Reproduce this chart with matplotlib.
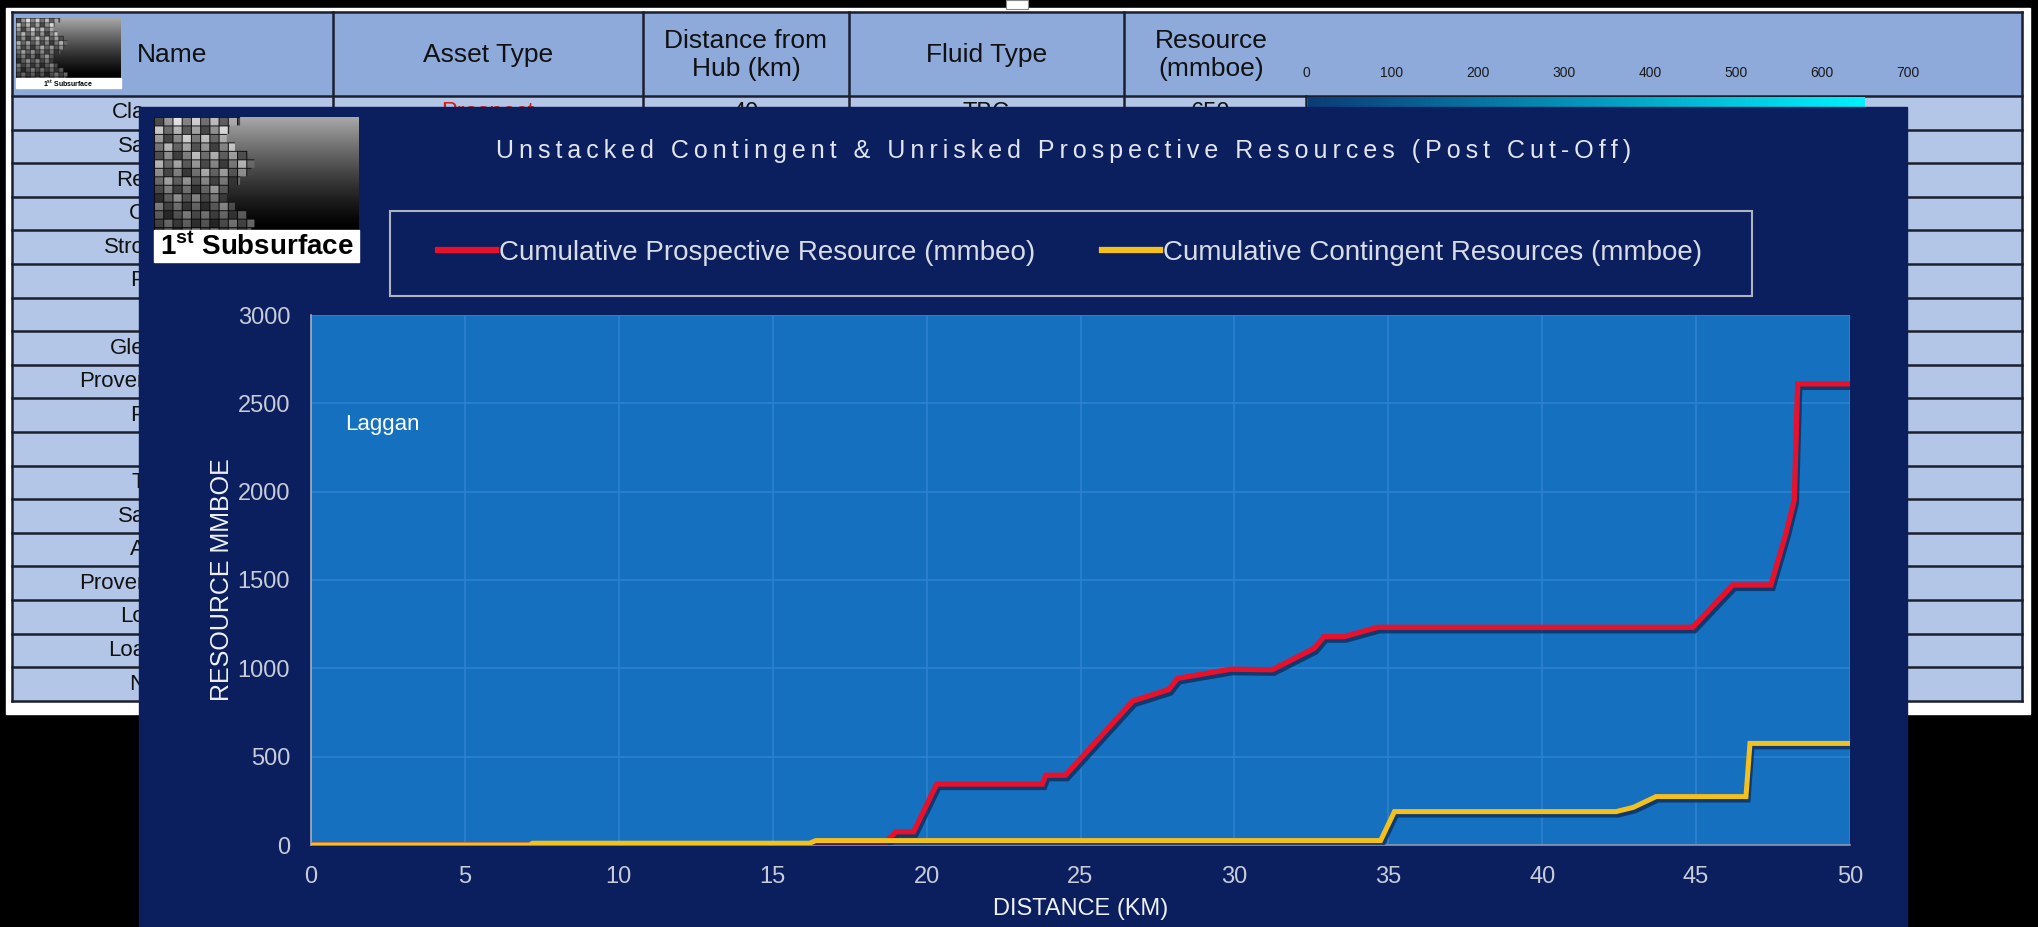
import matplotlib.pyplot as plt
import matplotlib.patheffects as pe
from matplotlib.lines import Line2D
from matplotlib.patches import Rectangle
import numpy as np

plt.rcParams["font.family"] = ["Liberation Sans", "DejaVu Sans"]

W, H = 2038, 927

# cumulative resources against distance from the hub
prospective_km = [0, 18.6, 19.0, 19.58, 20.33, 23.76, 23.87, 24.51, 26.7, 27.87, 28.15,
                  29.87, 31.23, 32.59, 32.91, 33.56, 34.65, 44.89, 46.19, 47.43, 47.92,
                  48.19, 48.3, 50]
prospective_mmboe = [0, 0, 75, 75, 345, 345, 395, 395, 815, 880, 943,
                     995, 992, 1113, 1179, 1179, 1232, 1232, 1472, 1472, 1764,
                     1953, 2610, 2610]
contingent_km = [0, 7.1, 7.2, 16.2, 16.4, 34.75, 35.2, 42.4, 42.96, 43.7, 46.62, 46.75, 50]
contingent_mmboe = [0, 0, 10, 10, 25, 25, 189, 189, 213, 274, 274, 575, 575]

x_ticks = list(range(0, 51, 5))
y_ticks = list(range(0, 3001, 500))

title = "Unstacked Contingent & Unrisked Prospective Resources (Post Cut-Off)"
legend_labels = ["Cumulative Prospective Resource (mmbeo)",
                 "Cumulative Contingent Resources (mmboe)"]
field_label = "Laggan"

# asset table sitting behind the chart
header_labels = ["Name", "Asset Type", "Distance from\nHub (km)", "Fluid Type", "Resource\n(mmboe)"]
bar_scale = [0, 100, 200, 300, 400, 500, 600, 700]
name_stubs = ["Cla", "Sa", "Re", "C", "Stro", "P", "", "Gle", "Prover", "P", "",
              "T", "Sa", "A", "Prover", "Lo", "Loa", "N"]
first_row = ["Prospect", "40", "TBC", "650"]
first_row_bar = 650

# layout in pixels
col_edges = [12, 333, 643, 849, 1124, 2022]
bar_left, bar_px_per_unit = 1306, 0.86
head_top, head_bot, row_h = 12, 96, 33.6
panel = (139, 107, 1907, 927)
plot_box = (311, 315, 1850, 845)

NAVY = "#0b1f5e"
RED = "#e8102a"
GOLD = "#f4c01e"


def logo_image(h, w):
    yy, xx = np.mgrid[0:h, 0:w]
    img = 0.66 * (1 - yy / (h - 1)) ** 1.3
    cell = max(w // 22, 3)
    bi, bj = yy // cell, xx // cell
    shade = 0.3 + 0.6 * (((bi * 7 + bj * 13) % 9) / 8.0)
    edge = (yy % cell == 0) | (xx % cell == 0)
    facade = np.where(edge, 0.08, shade) * (0.45 + 0.55 * (1 - yy / h))
    limit = w * (0.42 - 0.07 * np.sin(bi * 0.9))
    return np.where(xx < limit, facade, img)


def draw_logo(axb, x0, y0, x1, y1, strip, size, z):
    axb.imshow(logo_image(120, 200), cmap="gray", vmin=0, vmax=1, aspect="auto",
               extent=(x0, x1, y1 - strip, y0), zorder=z, interpolation="bilinear")
    axb.add_patch(Rectangle((x0, y1 - strip), x1 - x0, strip, color="white", zorder=z))
    axb.text((x0 + x1) / 2, y1 - strip / 2 + 1, r"1$^{\mathregular{st}}$ Subsurface",
             ha="center", va="center", fontsize=size, fontweight="bold", color="black",
             zorder=z + 1)


fig = plt.figure(figsize=(W / 100, H / 100), dpi=100, facecolor="black")
bg = fig.add_axes([0, 0, 1, 1])
bg.axis("off")

# spreadsheet page
bg.add_patch(Rectangle((6, 8), 2024, 706, color="white", zorder=0))
bg.add_patch(Rectangle((1006, 0), 22, 9, facecolor="white", edgecolor="#888888", lw=0.8, zorder=1))
n_rows = len(name_stubs)
table_bot = head_bot + n_rows * row_h
bg.add_patch(Rectangle((col_edges[0], head_top), col_edges[-1] - col_edges[0],
                       head_bot - head_top, color="#8eaadb", zorder=1))
bg.add_patch(Rectangle((col_edges[0], head_bot), col_edges[-1] - col_edges[0],
                       table_bot - head_bot, color="#b4c6e7", zorder=1))

for y in [head_top, head_bot] + [head_bot + row_h * (k + 1) for k in range(n_rows)]:
    bg.plot([col_edges[0], col_edges[-1]], [y, y], color="#1c1f2e", lw=1.8, zorder=2)
for x in col_edges:
    bg.plot([x, x], [head_top, table_bot], color="#1c1f2e", lw=1.8, zorder=2)
bg.plot([bar_left, bar_left], [head_bot, table_bot], color="#1c1f2e", lw=1.8, zorder=2)

for k, lab in enumerate(header_labels):
    cx = (col_edges[k] + col_edges[k + 1]) / 2 if k < 4 else 1211
    bg.text(cx, 55, lab, ha="center", va="center", fontsize=19, color="#111111",
            linespacing=1.25, zorder=3)
for v in bar_scale:
    bg.text(bar_left + v * bar_px_per_unit, 73, str(v), ha="center", va="center",
            fontsize=10, color="#1a1a1a", zorder=3)

# first row of values, mostly hidden by the chart
row1_y = head_bot + row_h / 2
for k, val in enumerate(first_row):
    cx = (col_edges[k + 1] + col_edges[k + 2]) / 2 if k < 3 else 1211
    bg.text(cx, row1_y, val, ha="center", va="center", fontsize=17,
            color="#d0201c" if k == 0 else "#111111", zorder=3)
grad = np.linspace(0, 1, 256).reshape(1, -1)
bar_cmap = plt.matplotlib.colors.LinearSegmentedColormap.from_list("bar", ["#0b3c78", "#00f2ff"])
bg.imshow(grad, cmap=bar_cmap, aspect="auto", zorder=3,
          extent=(bar_left + 2, bar_left + first_row_bar * bar_px_per_unit,
                  head_bot + row_h - 2, head_bot + 1.5))

for k, stub in enumerate(name_stubs):
    bg.text(145, head_bot + row_h * (k + 0.5), stub, ha="right", va="center",
            fontsize=16, color="#111111", zorder=3)

draw_logo(bg, 16, 18, 121, 88, 10, 5, 4)

# chart panel
bg.add_patch(Rectangle((panel[0], panel[1]), panel[2] - panel[0], panel[3] - panel[1],
                       color=NAVY, zorder=6))
draw_logo(bg, 154, 117, 359, 262, 32, 20, 9)

bg.text((plot_box[0] + plot_box[2]) / 2 - 17, 151, "\u2009".join(title), ha="center", va="center",
        fontsize=18, color="#e2e5ee", zorder=7)
bg.add_patch(Rectangle((390, 211), 1362, 85, fill=False, edgecolor="#aeb3c2", lw=1.5, zorder=7))

bg.set_xlim(0, W)
bg.set_ylim(H, 0)

handles = [Line2D([], [], color=RED, lw=4.5), Line2D([], [], color=GOLD, lw=4.5)]
fig.legend(handles, legend_labels, loc="center", bbox_to_anchor=(1070 / W, 1 - 253 / H),
           ncol=2, frameon=False, fontsize=20, handlelength=2.1, handletextpad=0.1,
           columnspacing=2.4, labelcolor="#d8dce6")

# resource chart
ax = fig.add_axes([plot_box[0] / W, 1 - plot_box[3] / H,
                   (plot_box[2] - plot_box[0]) / W, (plot_box[3] - plot_box[1]) / H])
ax.set_facecolor("#1570c0")
shadow = [pe.SimpleLineShadow(offset=(1.5, -2.5), shadow_color="#0a2550", alpha=0.7), pe.Normal()]
ax.plot(prospective_km, prospective_mmboe, color=RED, lw=3.8, solid_joinstyle="miter",
        path_effects=shadow, zorder=3)
ax.plot(contingent_km, contingent_mmboe, color=GOLD, lw=3.6, solid_joinstyle="miter",
        path_effects=shadow, zorder=4)
ax.text(1.1, 2380, field_label, color="white", fontsize=16, va="center", ha="left")

ax.set_xlim(0, 50)
ax.set_ylim(0, 3000)
ax.set_xticks(x_ticks)
ax.set_yticks(y_ticks)
ax.grid(True, color="#2c82ce", lw=1.2)
ax.set_axisbelow(True)
ax.tick_params(length=0, labelsize=17, labelcolor="#c8ccd8", pad=15)
for side in ["top", "right"]:
    ax.spines[side].set_visible(False)
ax.spines["left"].set_color("#a4adc4")
ax.spines["bottom"].set_color("#8c96b0")
ax.spines["left"].set_linewidth(1.2)
ax.spines["bottom"].set_linewidth(1.2)

ax.set_xlabel("DISTANCE (KM)", fontsize=17, color="#eef0f4")
ax.set_ylabel("RESOURCE MMBOE", fontsize=18, color="#eef0f4")
ax.xaxis.set_label_coords(0.5, -0.1)
ax.yaxis.set_label_coords(-0.05, 0.5)

fig.savefig("out.png", dpi=100, facecolor="black")
